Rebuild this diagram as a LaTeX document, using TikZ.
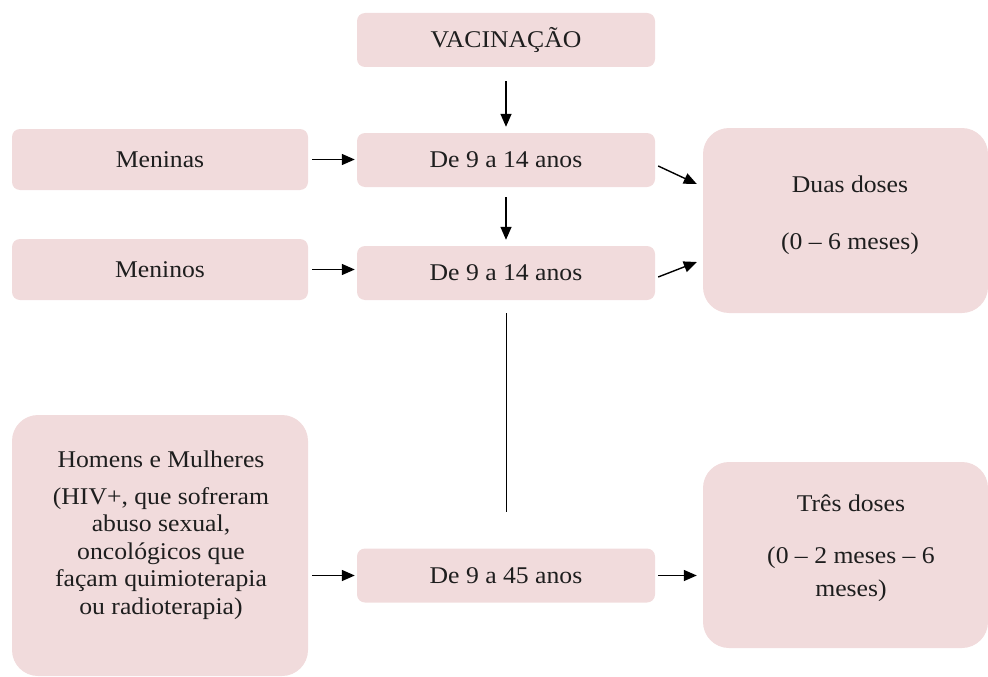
\documentclass[tikz,border=0pt]{standalone}
\usepackage{fontspec}
\setmainfont{Liberation Serif}[FakeStretch=1.07]
\usetikzlibrary{arrows.meta}
\definecolor{boxpink}{RGB}{241,219,220}
\definecolor{inktext}{RGB}{30,30,30}
\begin{document}
\begin{tikzpicture}[x=1pt,y=-1pt,
  box/.style={fill=boxpink, draw=none, rounded corners=8pt, inner sep=0pt,
    align=center, text=inktext, font=\fontsize{24}{27.5}\selectfont},
  smallbox/.style={box, minimum width=298pt, minimum height=54pt},
  sidebox/.style={box, minimum width=296pt, minimum height=61pt},
  bigbox/.style={box, rounded corners=26pt},
  txt/.style={inner sep=0pt, align=center, text=inktext, font=\fontsize{24}{27.5}\selectfont},
  link/.style={line width=1.4pt, -{Triangle[length=13pt,width=11pt]}},
  plain/.style={line width=1pt},
]
\useasboundingbox (0,0) rectangle (988,677);

% central column
\node[smallbox] (vac) at (506,40) {VACINAÇÃO};
\node[smallbox] (d1) at (506,160) {De 9 a 14 anos};
\node[smallbox] (d2) at (506,273) {De 9 a 14 anos};
\node[smallbox] (d45) at (506,575.5) {De 9 a 45 anos};

% left column
\node[sidebox] (meninas) at (160,159.5) {Meninas};
\node[sidebox] (meninos) at (160,269.5) {Meninos};
\node[bigbox, minimum width=296pt, minimum height=261pt] (homens) at (160,545.5) {};
\node[txt] (homenstxt) at (161,535) {Homens e Mulheres\\[9.5pt](HIV+, que sofreram\\abuso sexual,\\oncológicos que\\façam quimioterapia\\ou radioterapia)};

% right column
\node[bigbox, minimum width=285pt, minimum height=185pt] (duas) at (845.5,220.5) {};
\node[txt] (duastxt) at (850,215) {Duas doses\\[29.5pt](0 – 6 meses)};
\node[bigbox, minimum width=285pt, minimum height=186pt] (tres) at (845.5,555) {};
\node[txt] (trestxt) at (851,548.5) {Três doses\\[24.5pt](0 – 2 meses – 6\\[5.5pt]meses)};

% connectors
\draw[link, shorten <=14pt, shorten >=6pt] (vac) -- (d1);
\draw[link, shorten <=10pt, shorten >=6pt] (d1) -- (d2);
\draw[link, shorten <=4pt, shorten >=2pt] (meninas.east) -- (meninas.east -| d1.west);
\draw[link, shorten <=4pt, shorten >=2pt] (meninos.east) -- (meninos.east -| d2.west);
\draw[link, shorten <=4pt, shorten >=2pt] (d45.west -| homens.east) -- (d45.west);
\draw[link, shorten <=3pt, shorten >=6pt] (d45.east) -- (d45.east -| tres.west);
\draw[link] ([xshift=3pt,yshift=-6pt]d1.east) -- ([xshift=-6pt,yshift=36.5pt]duas.west);
\draw[link] ([xshift=3pt,yshift=-4pt]d2.east) -- ([xshift=-6pt,yshift=-41.5pt]duas.west);
\draw[plain, shorten <=13pt, shorten >=36pt] (d2.south) -- (d45.north);
\end{tikzpicture}
\end{document}
